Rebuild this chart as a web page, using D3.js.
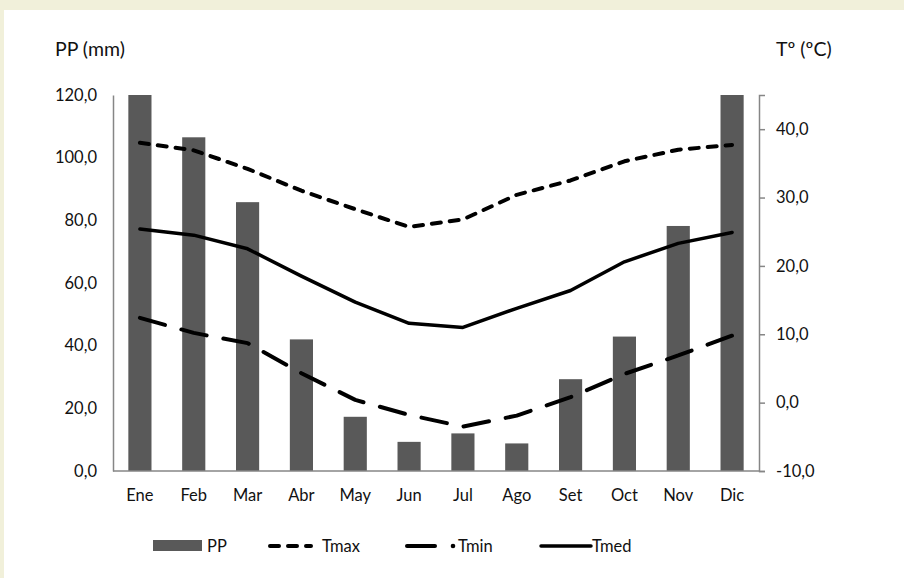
<!DOCTYPE html>
<html>
<head>
<meta charset="utf-8">
<script src="https://cdn.jsdelivr.net/npm/d3@7"></script>
<style>
  html, body { margin: 0; padding: 0; background: #f1f0da; }
  svg { display: block; }
  text { font-family: Lato, "Open Sans", sans-serif; fill: #111; }
</style>
</head>
<body>
<svg id="chart" width="904" height="578"></svg>
<script>
// Climograma: precipitación mensual (barras) y temperaturas (líneas)
const months = ["Ene","Feb","Mar","Abr","May","Jun","Jul","Ago","Set","Oct","Nov","Dic"];
const pp   = [120.0, 106.5, 85.8, 42.0, 17.3, 9.3, 12.0, 8.8, 29.3, 42.9, 78.2, 120.0];
const tmax = [38.0, 36.9, 34.2, 31.0, 28.3, 25.7, 26.8, 30.4, 32.5, 35.3, 37.0, 37.7];
const tmin = [12.4, 10.2, 8.7, 4.3, 0.4, -1.8, -3.5, -1.9, 0.8, 4.2, 6.9, 9.8];
const tmed = [25.4, 24.5, 22.5, 18.5, 14.7, 11.6, 11.0, 13.8, 16.4, 20.6, 23.3, 24.9];
const ppTicks = [0, 20, 40, 60, 80, 100, 120];
const tTicks  = [-10, 0, 10, 20, 30, 40];

const svg = d3.select("#chart");
const fmt = v => d3.format(".1f")(v).replace(".", ",").replace("−", "-");

// white panel
svg.append("rect").attr("x", 4).attr("y", 10).attr("width", 900).attr("height", 568).attr("fill", "#ffffff");

const plotL = 113, plotR = 759, plotT = 95, plotB = 471;

const x = d3.scaleBand().domain(months).range([plotL, plotR]).paddingInner(0.57).paddingOuter(0.285);
const yP = d3.scaleLinear().domain([0, 120]).range([plotB, plotT]);
const yT = d3.scaleLinear().domain([-10, 45]).range([plotB, plotT]);
const cx = m => x(m) + x.bandwidth() / 2;

// bars
svg.append("g").selectAll("rect").data(pp).join("rect")
  .attr("x", (d, i) => x(months[i]))
  .attr("y", d => yP(d))
  .attr("width", x.bandwidth())
  .attr("height", d => yP(0) - yP(d))
  .attr("fill", "#595959");

// axes
const axisColor = "#868686";
const gL = svg.append("g").attr("transform", `translate(${plotL},0)`)
  .call(d3.axisLeft(yP).tickValues(ppTicks).tickSize(0).tickPadding(16).tickFormat(fmt));
const gR = svg.append("g").attr("transform", `translate(${plotR},0)`)
  .call(d3.axisRight(yT).tickValues(tTicks).tickSize(6).tickPadding(11).tickFormat(fmt));
const gB = svg.append("g").attr("transform", `translate(0,${plotB})`)
  .call(d3.axisBottom(x).tickSize(0).tickPadding(18));
[gL, gR, gB].forEach(g => {
  g.select(".domain").attr("stroke", axisColor).attr("stroke-width", 1.5);
  g.selectAll(".tick line").attr("stroke", axisColor).attr("stroke-width", 1.5);
  g.selectAll(".tick text").attr("font-size", 16.5).attr("font-family", "Lato, 'Open Sans', sans-serif").attr("fill", "#111");
});
gB.select(".domain").attr("d", `M${plotL},0H${plotR}`);

// axis titles
svg.append("text").attr("x", 55).attr("y", 56).attr("font-size", 19.5).text("PP (mm)");
svg.append("text").attr("x", 776).attr("y", 56).attr("font-size", 19.5).text("Tº (ºC)");

// temperature lines
const line = d3.line().x((d, i) => cx(months[i])).y(d => yT(d));
const styles = {
  tmax: { dash: "9,9", w: 4 },
  tmin: { dash: "26,17", w: 4 },
  tmed: { dash: null, w: 3.5 }
};
[["tmax", tmax], ["tmin", tmin], ["tmed", tmed]].forEach(([k, vals]) => {
  svg.append("path").datum(vals)
    .attr("d", line)
    .attr("fill", "none")
    .attr("stroke", "#000")
    .attr("stroke-width", styles[k].w)
    .attr("stroke-linecap", "round")
    .attr("stroke-linejoin", "round")
    .attr("stroke-dasharray", styles[k].dash);
});

// legend
const ly = 546;
const lg = svg.append("g");
lg.append("rect").attr("x", 153).attr("y", ly - 6).attr("width", 49).attr("height", 11).attr("fill", "#595959");
lg.append("text").attr("x", 207).attr("y", ly + 6).attr("font-size", 16.5).text("PP");
lg.append("line").attr("x1", 270).attr("x2", 311).attr("y1", ly).attr("y2", ly)
  .attr("stroke", "#000").attr("stroke-width", 4).attr("stroke-linecap", "round").attr("stroke-dasharray", "9,9");
lg.append("text").attr("x", 322).attr("y", ly + 6).attr("font-size", 16.5).text("Tmax");
lg.append("line").attr("x1", 407).attr("x2", 435).attr("y1", ly).attr("y2", ly)
  .attr("stroke", "#000").attr("stroke-width", 4).attr("stroke-linecap", "round");
lg.append("circle").attr("cx", 453).attr("cy", ly).attr("r", 2.3).attr("fill", "#000");
lg.append("text").attr("x", 458).attr("y", ly + 6).attr("font-size", 16.5).text("Tmin");
lg.append("line").attr("x1", 541).attr("x2", 591).attr("y1", ly).attr("y2", ly)
  .attr("stroke", "#000").attr("stroke-width", 3.5).attr("stroke-linecap", "round");
lg.append("text").attr("x", 592).attr("y", ly + 6).attr("font-size", 16.5).text("Tmed");
</script>
</body>
</html>
